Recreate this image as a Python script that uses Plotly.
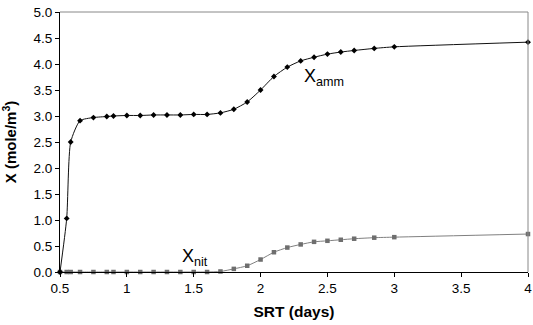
import plotly.graph_objects as go

srt_amm = [0.5, 0.55, 0.58, 0.65, 0.75, 0.85, 0.9, 1.0, 1.1, 1.2, 1.3, 1.4, 1.5, 1.6, 1.7, 1.8, 1.9,
           2.0, 2.1, 2.2, 2.3, 2.4, 2.5, 2.6, 2.7, 2.85, 3.0, 4.0]
x_amm = [0.0, 1.03, 2.5, 2.91, 2.97, 2.99, 3.0, 3.01, 3.01, 3.02, 3.02, 3.02, 3.03, 3.03, 3.06, 3.13, 3.27,
         3.5, 3.76, 3.94, 4.06, 4.13, 4.19, 4.23, 4.26, 4.3, 4.33, 4.42]

srt_nit = [0.5, 0.55, 0.58, 0.65, 0.75, 0.85, 0.9, 1.0, 1.1, 1.2, 1.3, 1.4, 1.5, 1.6, 1.7, 1.8, 1.9,
           2.0, 2.1, 2.2, 2.3, 2.4, 2.5, 2.6, 2.7, 2.85, 3.0, 4.0]
x_nit = [0.0, 0.0, 0.0, 0.0, 0.0, 0.0, 0.0, 0.0, 0.0, 0.0, 0.0, 0.0, 0.0, 0.0, 0.01, 0.06, 0.12,
         0.24, 0.38, 0.47, 0.53, 0.58, 0.6, 0.62, 0.64, 0.66, 0.67, 0.73]

x_ticks = [0.5, 1, 1.5, 2, 2.5, 3, 3.5, 4]
x_ticktext = ["0.5", "1", "1.5", "2", "2.5", "3", "3.5", "4"]
y_ticks = [0, 0.5, 1, 1.5, 2, 2.5, 3, 3.5, 4, 4.5, 5]
y_ticktext = ["0.0", "0.5", "1.0", "1.5", "2.0", "2.5", "3.0", "3.5", "4.0", "4.5", "5.0"]

FONT = "Liberation Sans, Arial, sans-serif"

fig = go.Figure()
fig.add_trace(go.Scatter(
    x=srt_nit, y=x_nit, mode="lines+markers",
    line=dict(color="#808080", width=1, shape="spline", smoothing=0.6),
    marker=dict(symbol="square", size=4.5, color="#6e6e6e"),
    showlegend=False, cliponaxis=False))
fig.add_trace(go.Scatter(
    x=srt_amm, y=x_amm, mode="lines+markers",
    line=dict(color="#111111", width=1, shape="spline", smoothing=0.6),
    marker=dict(symbol="diamond", size=4.5, color="#000000"),
    showlegend=False, cliponaxis=False))

fig.add_annotation(x=2.31, y=3.74, text="X<sub>amm</sub>", showarrow=False,
                   xanchor="left", yanchor="middle",
                   font=dict(family=FONT, size=18, color="#000000"))
fig.add_annotation(x=1.395, y=0.27, text="X<sub>nit</sub>", showarrow=False,
                   xanchor="left", yanchor="middle",
                   font=dict(family=FONT, size=18, color="#000000"))

# grey top/right frame
fig.add_shape(type="line", xref="paper", yref="paper", x0=0, x1=1, y0=1, y1=1,
              line=dict(color="#888888", width=1))
fig.add_shape(type="line", xref="paper", yref="paper", x0=1, x1=1, y0=0, y1=1,
              line=dict(color="#888888", width=1))

fig.update_layout(
    width=533, height=325,
    margin=dict(l=60, r=5, t=12, b=53),
    paper_bgcolor="white", plot_bgcolor="white",
    font=dict(family=FONT, size=13.5, color="#000000"),
    xaxis=dict(range=[0.5, 4], tickvals=x_ticks, ticktext=x_ticktext, automargin=False,
               showgrid=False, zeroline=False, showline=True, linecolor="#000000", linewidth=1,
               ticks="outside", ticklen=4, tickcolor="#000000",
               title=dict(text="<b>SRT (days)</b>", standoff=10, font=dict(size=15.5))),
    yaxis=dict(range=[0, 5], tickvals=y_ticks, ticktext=y_ticktext, automargin=False,
               showgrid=False, zeroline=False, showline=True, linecolor="#000000", linewidth=1,
               ticks="outside", ticklen=4, tickcolor="#000000",
               title=dict(text="<b>X (mole/m<sup>3</sup>)</b>", standoff=14, font=dict(size=15))),
)

fig.write_html("out.html", config={"displayModeBar": False},
               post_script="document.body.style.margin='0';document.body.style.overflow='hidden';")
